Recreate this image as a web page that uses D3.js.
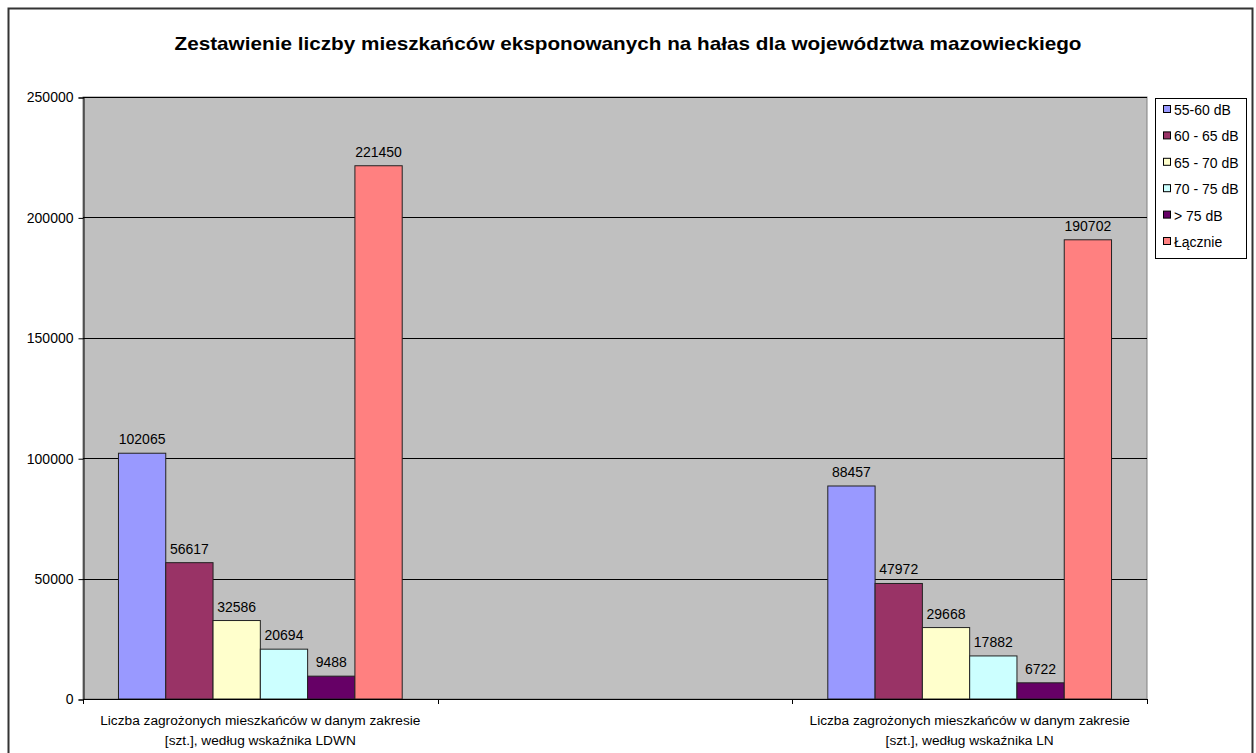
<!DOCTYPE html>
<html>
<head>
<meta charset="utf-8">
<script src="https://cdnjs.cloudflare.com/ajax/libs/d3/7.8.5/d3.min.js"></script>
<style>
  html, body { margin: 0; padding: 0; background: #fff; }
  svg text { font-family: "Liberation Sans", Arial, sans-serif; fill: #000; }
</style>
</head>
<body>
<script>
// Categories on the x axis (the middle slot is an empty spacer category)
const categories = [
  ["Liczba zagrożonych mieszkańców w danym zakresie", "[szt.], według wskaźnika LDWN"],
  ["", ""],
  ["Liczba zagrożonych mieszkańców w danym zakresie", "[szt.], według wskaźnika LN"]
];
const seriesNames = ["55-60 dB", "60 - 65 dB", "65 - 70 dB", "70 - 75 dB", "> 75 dB", "Łącznie"];
const seriesColors = ["#9999FF", "#993366", "#FFFFCC", "#CCFFFF", "#660066", "#FF8080"];
// values per series, one per category (null = no bar)
const s5560 = [102065, null, 88457];
const s6065 = [56617, null, 47972];
const s6570 = [32586, null, 29668];
const s7075 = [20694, null, 17882];
const s75 = [9488, null, 6722];
const sTotal = [221450, null, 190702];
const seriesValues = [s5560, s6065, s6570, s7075, s75, sTotal];
const yTicks = [0, 50000, 100000, 150000, 200000, 250000];
const title = "Zestawienie liczby mieszkańców eksponowanych na hałas dla województwa mazowieckiego";

const W = 1256, H = 753;
const svg = d3.select("body").append("svg").attr("width", W).attr("height", H);

// chart frame
svg.append("rect").attr("x", 8.5).attr("y", 8.5).attr("width", 1244).attr("height", 760)
  .attr("fill", "#fff").attr("stroke", "#333").attr("stroke-width", 2);

svg.append("text").attr("x", 628).attr("y", 50).attr("text-anchor", "middle")
  .attr("font-size", "19px").attr("font-weight", "bold")
  .attr("textLength", 907).attr("lengthAdjust", "spacingAndGlyphs").text(title);

const plot = { left: 83, right: 1147, top: 97, bottom: 699 };

const x = d3.scaleBand().domain(d3.range(categories.length)).range([plot.left, plot.right]).padding(0);
const y = d3.scaleLinear().domain([0, 250000]).range([plot.bottom, plot.top]);
const barW = x.bandwidth() / (seriesNames.length + 1.5);
const xs = d3.scaleBand().domain(d3.range(seriesNames.length))
  .range([barW * 0.75, barW * 0.75 + barW * seriesNames.length]).padding(0);

// plot background
svg.append("rect").attr("x", plot.left).attr("y", plot.top)
  .attr("width", plot.right - plot.left).attr("height", plot.bottom - plot.top)
  .attr("fill", "#C0C0C0").attr("stroke", "#808080").attr("stroke-width", 1);

// gridlines
svg.append("g").selectAll("line").data(yTicks.filter(d => d > 0)).join("line")
  .attr("x1", plot.left).attr("x2", plot.right)
  .attr("y1", d => Math.round(y(d)) + 0.5).attr("y2", d => Math.round(y(d)) + 0.5)
  .attr("stroke", "#000").attr("stroke-width", 1);

// bars
const bars = [];
seriesValues.forEach((vals, si) => {
  vals.forEach((v, ci) => { if (v != null) bars.push({ si, ci, v }); });
});
svg.append("g").selectAll("rect").data(bars).join("rect")
  .attr("x", d => x(d.ci) + xs(d.si))
  .attr("y", d => y(d.v))
  .attr("width", xs.bandwidth())
  .attr("height", d => y(0) - y(d.v))
  .attr("fill", d => seriesColors[d.si])
  .attr("stroke", "#222").attr("stroke-width", 1);

// value labels
svg.append("g").selectAll("text").data(bars).join("text")
  .attr("x", d => x(d.ci) + xs(d.si) + xs.bandwidth() / 2)
  .attr("y", d => y(d.v) - 9)
  .attr("text-anchor", "middle").attr("font-size", "14px")
  .text(d => d.v);

// y axis
const yAxis = d3.axisLeft(y).tickValues(yTicks).tickSize(5).tickPadding(5).tickFormat(d3.format("d"));
const gy = svg.append("g").attr("transform", `translate(${plot.left + 0.5},0.5)`).call(yAxis);
gy.select(".domain").attr("stroke", "#000");
gy.selectAll(".tick line").attr("stroke", "#000");
gy.selectAll(".tick text").attr("font-size", "14px").attr("font-family", "Liberation Sans, Arial, sans-serif").attr("fill", "#000");

// x axis
const xBoundaries = d3.range(categories.length + 1).map(i => plot.left + i * x.bandwidth());
svg.append("line").attr("x1", plot.left).attr("x2", plot.right)
  .attr("y1", plot.bottom + 0.5).attr("y2", plot.bottom + 0.5).attr("stroke", "#000");
svg.append("g").selectAll("line").data(xBoundaries).join("line")
  .attr("x1", d => Math.round(d) + 0.5).attr("x2", d => Math.round(d) + 0.5)
  .attr("y1", plot.bottom).attr("y2", plot.bottom + 5).attr("stroke", "#000");

const catG = svg.append("g").selectAll("text").data(categories).join("text")
  .attr("text-anchor", "middle").attr("font-size", "13.7px");
catG.each(function (lines, i) {
  const t = d3.select(this);
  lines.forEach((ln, j) => {
    t.append("tspan").attr("x", x(i) + x.bandwidth() / 2).attr("y", 725 + j * 19.5).text(ln);
  });
});

// legend
const lg = svg.append("g");
lg.append("rect").attr("x", 1155.5).attr("y", 98.5).attr("width", 91).attr("height", 160)
  .attr("fill", "#fff").attr("stroke", "#000").attr("stroke-width", 1);
const items = lg.selectAll("g.item").data(seriesNames).join("g").attr("class", "item")
  .attr("transform", (d, i) => `translate(1163, ${110 + i * 26.4})`);
items.append("rect").attr("x", 0.5).attr("y", -4.5).attr("width", 7).attr("height", 7)
  .attr("fill", (d, i) => seriesColors[i]).attr("stroke", "#000").attr("stroke-width", 1);
items.append("text").attr("x", 11).attr("y", 5).attr("font-size", "14px").text(d => d);
</script>
</body>
</html>
